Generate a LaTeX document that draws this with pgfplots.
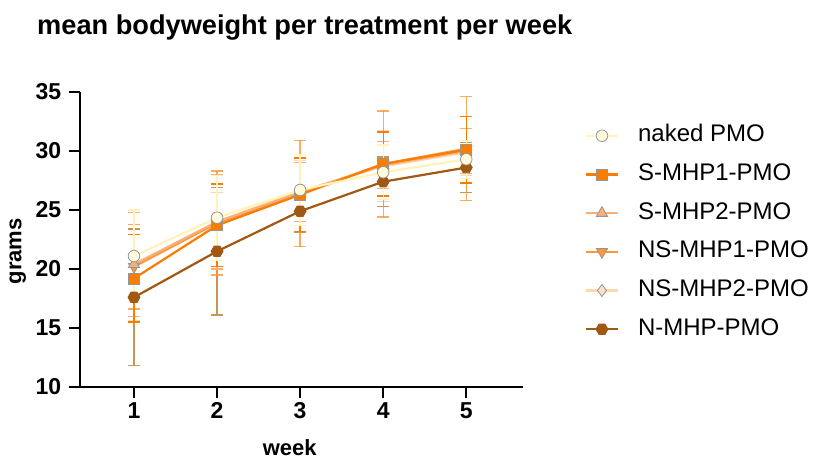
\documentclass[border=0pt]{standalone}
\usepackage{fontspec}
\setmainfont{Liberation Sans}
\usepackage{pgfplots}
\pgfplotsset{compat=1.18}
\definecolor{cNaked}{RGB}{255,250,222}
\definecolor{cNakedL}{RGB}{255,243,185}
\definecolor{cS1}{RGB}{250,125,0}
\definecolor{cS2}{RGB}{248,176,120}
\definecolor{cNS1}{RGB}{255,150,55}
\definecolor{cNS2}{RGB}{255,224,196}
\definecolor{cNS2L}{RGB}{255,214,175}
\definecolor{cN}{RGB}{160,88,18}
\definecolor{cNE}{RGB}{200,148,88}
\definecolor{cEdge}{RGB}{150,150,150}
\pgfdeclareplotmark{hexagon*}{%
  \pgfpathmoveto{\pgfpointpolar{0}{\pgfplotmarksize}}%
  \pgfpathlineto{\pgfpointpolar{60}{\pgfplotmarksize}}%
  \pgfpathlineto{\pgfpointpolar{120}{\pgfplotmarksize}}%
  \pgfpathlineto{\pgfpointpolar{180}{\pgfplotmarksize}}%
  \pgfpathlineto{\pgfpointpolar{240}{\pgfplotmarksize}}%
  \pgfpathlineto{\pgfpointpolar{300}{\pgfplotmarksize}}%
  \pgfpathclose\pgfusepathqfillstroke}
\pgfplotstableread{
x y e
1 21.1 3.9
2 24.35 3.6
3 26.7 3.0
4 28.2 2.3
5 29.3 1.6
}\naked
\pgfplotstableread{
x y e
1 19.2 3.7
2 23.7 3.5
3 26.3 3.1
4 28.9 2.7
5 30.1 2.8
}\sone
\pgfplotstableread{
x y e
1 20.4 4.4
2 24.0 4.0
3 26.5 2.5
4 28.8 2.0
5 30.0 1.9
}\stwo
\pgfplotstableread{
x y e
1 20.2 3.6
2 23.9 4.4
3 26.4 4.5
4 28.9 4.5
5 30.2 4.4
}\nsone
\pgfplotstableread{
x y e
1 20.3 4.7
2 24.0 2.5
3 26.6 2.6
4 28.7 3.0
5 29.9 2.0
}\nstwo
\pgfplotstableread{
x y e
1 17.6 5.8
2 21.5 5.4
3 24.9 1.8
4 27.4 2.1
5 28.6 2.1
}\nmhp
\begin{document}
\begin{tikzpicture}[x=1pt,y=1pt]
\path[use as bounding box] (0,0) rectangle (814,459);
\node[anchor=west,font=\bfseries\fontsize{27.2}{27.2}\selectfont,inner sep=0pt] at (37,431) {mean bodyweight per treatment per week};
\begin{axis}[
  anchor=south west, at={(96,61)},
  scale only axis, width=443pt, height=295pt,
  xmin=0.347, xmax=5.68, ymin=10, ymax=35,
  xtick={1,2,3,4,5}, ytick={10,15,20,25,30,35},
  axis x line*=bottom, axis y line*=left,
  axis line style={line width=1.8pt,-},
  tick style={line width=1.8pt,black},
  tick align=outside, major tick length=11pt,
  /pgf/number format/assume math mode=true,
  ticklabel style={font=\bfseries\fontsize{23}{23}\selectfont},
  yticklabel style={xshift=-4pt},
  xticklabel style={yshift=-1pt},
  xlabel={week}, ylabel={grams},
  label style={font=\bfseries\fontsize{22}{22}\selectfont},
  xlabel style={at={(axis description cs:0.474,-0.207)},anchor=center},
  ylabel style={at={(axis description cs:-0.14,0.46)},anchor=center},
  clip=false,
  reverse legend,
  legend cell align=left,
  legend style={draw=none, fill=none, at={(axis description cs:1.133,0.90)}, anchor=north west,
    font=\fontsize{24}{24}\selectfont, row sep=14.7pt,
    nodes={inner sep=1pt, text height=17pt, text depth=5pt},
    /tikz/every odd column/.style={column sep=18pt}},
  legend image code/.code={\draw[#1] (0pt,0pt) -- (32pt,0pt); \path[#1] plot coordinates {(16pt,0pt)};},
  every axis plot/.append style={line width=2.2pt},
  error bars/y dir=both, error bars/y explicit,
]
\addplot[color=cN, mark=hexagon*, mark size=6pt, mark options={fill=cN,draw=cN,line width=0.8pt},
  error bars/error bar style={draw=cNE,line width=1.3pt},
  error bars/error mark options={rotate=90,mark size=6pt,draw=cNE,line width=1.3pt}]
  table[x=x,y=y,y error=e]{\nmhp};
\addlegendentry{N-MHP-PMO}
\addplot[color=cNS2L, mark=diamond*, mark size=6pt, mark options={fill=cNS2,draw=cEdge,line width=0.8pt},
  error bars/error bar style={draw=cNS2L,line width=1.3pt},
  error bars/error mark options={rotate=90,mark size=6pt,draw=cNS2L,line width=1.3pt}]
  table[x=x,y=y,y error=e]{\nstwo};
\addlegendentry{NS-MHP2-PMO}
\addplot[color=cNS1, mark=triangle*, mark size=6.5pt, mark options={rotate=180,fill=cNS1,draw=cEdge,line width=0.8pt},
  error bars/error bar style={draw=cNS1,draw opacity=0.8,line width=1.3pt},
  error bars/error mark options={rotate=90,mark size=6pt,draw=cNS1,draw opacity=0.8,line width=1.3pt}]
  table[x=x,y=y,y error=e]{\nsone};
\addlegendentry{NS-MHP1-PMO}
\addplot[color=cS2, mark=triangle*, mark size=6.5pt, mark options={fill=cS2,draw=cEdge,line width=0.8pt},
  error bars/error bar style={draw=cS2,line width=1.3pt},
  error bars/error mark options={rotate=90,mark size=6pt,draw=cS2,line width=1.3pt}]
  table[x=x,y=y,y error=e]{\stwo};
\addlegendentry{S-MHP2-PMO}
\addplot[color=cS1, mark=square*, mark size=5.5pt, mark options={fill=cS1,draw=cEdge,line width=0.8pt},
  error bars/error bar style={draw=cS1,line width=1.3pt},
  error bars/error mark options={rotate=90,mark size=6pt,draw=cS1,line width=1.3pt}]
  table[x=x,y=y,y error=e]{\sone};
\addlegendentry{S-MHP1-PMO}
\addplot[color=cNakedL, mark=*, mark size=5.8pt, mark options={fill=cNaked,draw=cEdge,line width=0.8pt},
  error bars/error bar style={draw=cNakedL,line width=1.3pt},
  error bars/error mark options={rotate=90,mark size=6pt,draw=cNakedL,line width=1.3pt}]
  table[x=x,y=y,y error=e]{\naked};
\addlegendentry{naked PMO}
\end{axis}
\end{tikzpicture}
\end{document}
